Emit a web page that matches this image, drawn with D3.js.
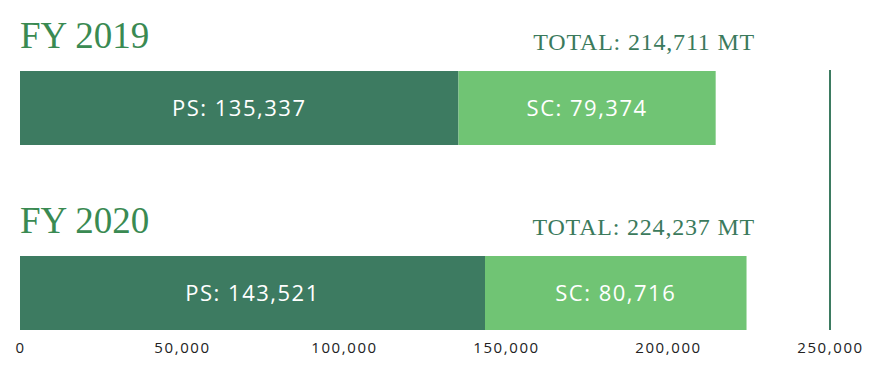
<!DOCTYPE html>
<html>
<head>
<meta charset="utf-8">
<script src="https://cdn.jsdelivr.net/npm/d3@7"></script>
<style>
  body { margin: 0; background: #fff; }
</style>
</head>
<body>
<svg id="chart"></svg>
<script>
const years = ["FY 2019", "FY 2020"];
const psValues = [135337, 143521];
const scValues = [79374, 80716];
const totals = [214711, 224237];
const tickValues = [0, 50000, 100000, 150000, 200000, 250000];

const width = 881, height = 383;
const darkGreen = "#3d7b61", lightGreen = "#70c474";

const svg = d3.select("#chart").attr("width", width).attr("height", height);

const x = d3.scaleLinear().domain([0, 250000]).range([20, 830]);
const y = d3.scaleBand().domain(years).range([71, 330]).paddingInner(0.6);

const rows = years.map((k, i) => ({year: k, ps: psValues[i], sc: scValues[i], total: totals[i]}));

const row = svg.append("g")
  .selectAll("g")
  .data(rows)
  .join("g")
  .attr("transform", d => `translate(0,${y(d.year)})`);

// PS part
row.append("rect")
  .attr("x", x(0))
  .attr("width", d => x(d.ps) - x(0))
  .attr("height", y.bandwidth())
  .attr("fill", darkGreen);

// SC part
row.append("rect")
  .attr("x", d => x(d.ps))
  .attr("width", d => x(d.ps + d.sc) - x(d.ps))
  .attr("height", y.bandwidth())
  .attr("fill", lightGreen);

const fmt = d3.format(",");

row.append("text")
  .attr("x", d => (x(0) + x(d.ps)) / 2)
  .attr("y", y.bandwidth() / 2)
  .attr("dy", "0.35em")
  .attr("text-anchor", "middle")
  .attr("fill", "#fff")
  .attr("font-family", "'Open Sans', sans-serif")
  .attr("font-size", 22)
  .attr("letter-spacing", 1.5)
  .text(d => "PS: " + fmt(d.ps));

row.append("text")
  .attr("x", d => (x(d.ps) + x(d.ps + d.sc)) / 2)
  .attr("y", y.bandwidth() / 2)
  .attr("dy", "0.35em")
  .attr("text-anchor", "middle")
  .attr("fill", "#fff")
  .attr("font-family", "'Open Sans', sans-serif")
  .attr("font-size", 22)
  .attr("letter-spacing", 1.5)
  .text(d => "SC: " + fmt(d.sc));

// year titles
row.append("text")
  .attr("x", x(0))
  .attr("y", -23)
  .attr("fill", "#3a8a52")
  .attr("font-family", "'Liberation Serif', serif")
  .attr("font-size", 37)
  .text(d => d.year);

// totals
row.append("text")
  .attr("x", 755)
  .attr("y", -21)
  .attr("text-anchor", "end")
  .attr("fill", "#3b7a5c")
  .attr("font-family", "'Liberation Serif', serif")
  .attr("font-size", 24)
  .attr("letter-spacing", 0.8)
  .text(d => "TOTAL: " + fmt(d.total) + " MT");

// max line
svg.append("line")
  .attr("x1", x(250000)).attr("x2", x(250000))
  .attr("y1", y.range()[0] - 1).attr("y2", y.range()[1])
  .attr("stroke", darkGreen)
  .attr("stroke-width", 2);

// axis
svg.append("g")
  .attr("transform", `translate(0,${y.range()[1]})`)
  .call(d3.axisBottom(x).tickValues(tickValues).tickFormat(fmt).tickSize(0).tickPadding(12))
  .call(g => g.select(".domain").remove())
  .call(g => g.selectAll("text")
    .attr("fill", "#222")
    .attr("font-family", "'Open Sans', sans-serif")
    .attr("font-size", 15)
    .attr("letter-spacing", 1.6));
</script>
</body>
</html>
